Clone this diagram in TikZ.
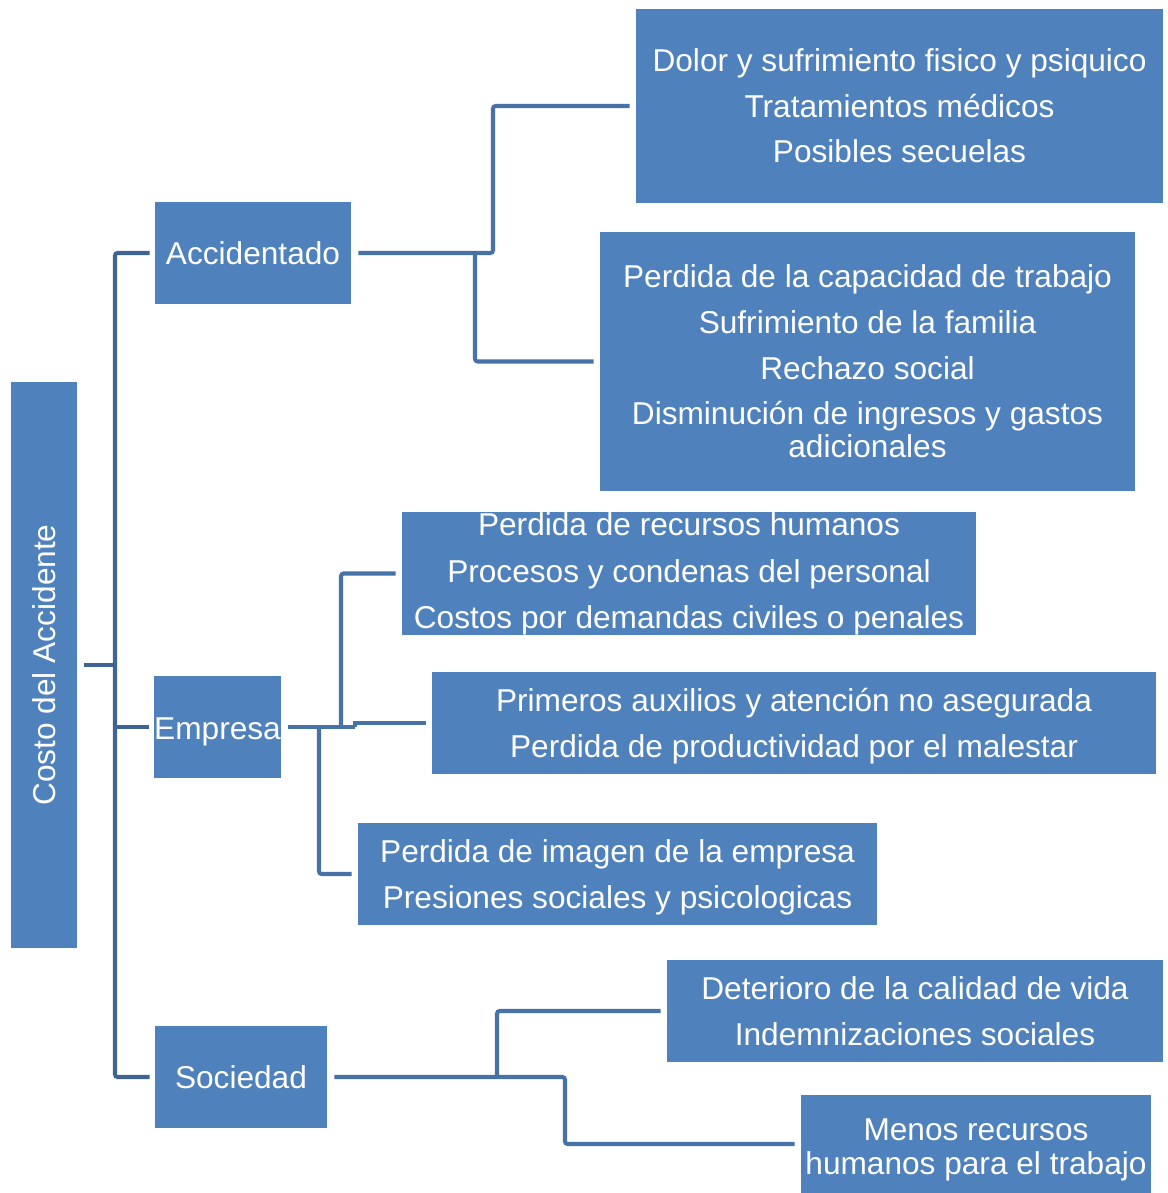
\documentclass[tikz,border=0pt]{standalone}
\usepackage{fontspec}
\setmainfont{Liberation Sans}
\usepackage{graphicx}
\definecolor{boxblue}{RGB}{79,129,189}
\definecolor{linkblue}{RGB}{70,114,168}
\definecolor{trunkblue}{RGB}{62,100,150}
\tikzset{
  item/.style={fill=boxblue, text=white, inner sep=0pt, align=center,
    font=\fontsize{18}{26}\selectfont},
  link/.style={draw=linkblue, line width=2.3pt, rounded corners=1.5pt},
}

\begin{document}
\begin{tikzpicture}[x=0.02cm, y=-0.02cm]
\useasboundingbox (0,0) rectangle (1167,1193);

% boxes
\node[item, minimum width=1.32cm, minimum height=11.32cm] (root) at (44,665) {\rotatebox{90}{Costo del Accidente}};

\node[item, minimum width=3.92cm, minimum height=2.04cm] (acc) at (253,253) {Accidentado};
\node[item, minimum width=2.50cm, minimum height=2.04cm] (emp) at (217.5,727) {\rule{0pt}{0.62cm}Empresa};
\node[item, minimum width=3.44cm, minimum height=2.04cm] (soc) at (241,1077) {Sociedad};

\node[item, minimum width=10.54cm, minimum height=3.88cm] (a1) at (899.5,106)
  {Dolor y sufrimiento fisico y psiquico\\Tratamientos médicos\\Posibles secuelas};
\node[item, minimum width=10.70cm, minimum height=5.18cm] (a2) at (867.5,361.5)
  {Perdida de la capacidad de trabajo\\Sufrimiento de la familia\\Rechazo social\\Disminución de ingresos y gastos\\[-0.26cm]adicionales};

\node[item, minimum width=11.48cm, minimum height=2.46cm] (e1) at (689,573.5)
  {Perdida de recursos humanos\\[0.04cm]Procesos y condenas del personal\\Costos por demandas civiles o penales};
\node[item, minimum width=14.48cm, minimum height=2.04cm] (e2) at (794,723)
  {\rule{0pt}{0.58cm}Primeros auxilios y atención no asegurada\\Perdida de productividad por el malestar};
\node[item, minimum width=10.38cm, minimum height=2.04cm] (e3) at (617.5,874)
  {\rule{0pt}{0.58cm}Perdida de imagen de la empresa\\Presiones sociales y psicologicas};

\node[item, minimum width=9.92cm, minimum height=2.04cm] (s1) at (915,1011)
  {Deterioro de la calidad de vida\\Indemnizaciones sociales};
\node[item, minimum width=7.00cm, minimum height=1.96cm] (s2) at (976,1144)
  {\rule{0pt}{0.68cm}Menos recursos\\[-0.24cm]humanos para el trabajo};

% junctions
\coordinate (trunk) at (115,665);
\coordinate (ja) at (493,0);
\coordinate (jb) at (475,0);
\coordinate (je1) at (341,0);
\coordinate (je2) at (355,0);
\coordinate (je3) at (319,0);
\coordinate (js1) at (497,0);
\coordinate (js2) at (565,0);

% trunk
\draw[link, draw=trunkblue, shorten <=0.14cm] (root.east) -- (root.east -| trunk);
\draw[link, draw=trunkblue, shorten <=0.1cm, shorten >=0.1cm] (acc.west) -| (trunk |- soc) -- (soc.west);
\draw[link, draw=trunkblue, shorten >=0.1cm] (trunk |- emp) -- (emp.west);

% Accidentado
\draw[link, shorten <=0.14cm, shorten >=0.12cm] (acc.east) -- (acc.east -| ja) |- (a1.west);
\draw[link, shorten >=0.12cm] (acc.east -| jb) |- (a2.west);

% Empresa
\draw[link, shorten <=0.14cm] (emp.east) -- (emp.east -| je2);
\draw[link, sharp corners, shorten >=0.12cm] (emp.east -| je2) |- (e2.west);
\draw[link, shorten >=0.12cm] (emp.east -| je1) |- (e1.west);
\draw[link, shorten >=0.12cm] (emp.east -| je3) |- (e3.west);

% Sociedad
\draw[link, shorten <=0.14cm, shorten >=0.12cm] (soc.east) -- (soc.east -| js2) |- (s2.west);
\draw[link, shorten >=0.12cm] (soc.east -| js1) |- (s1.west);

\end{tikzpicture}
\end{document}
